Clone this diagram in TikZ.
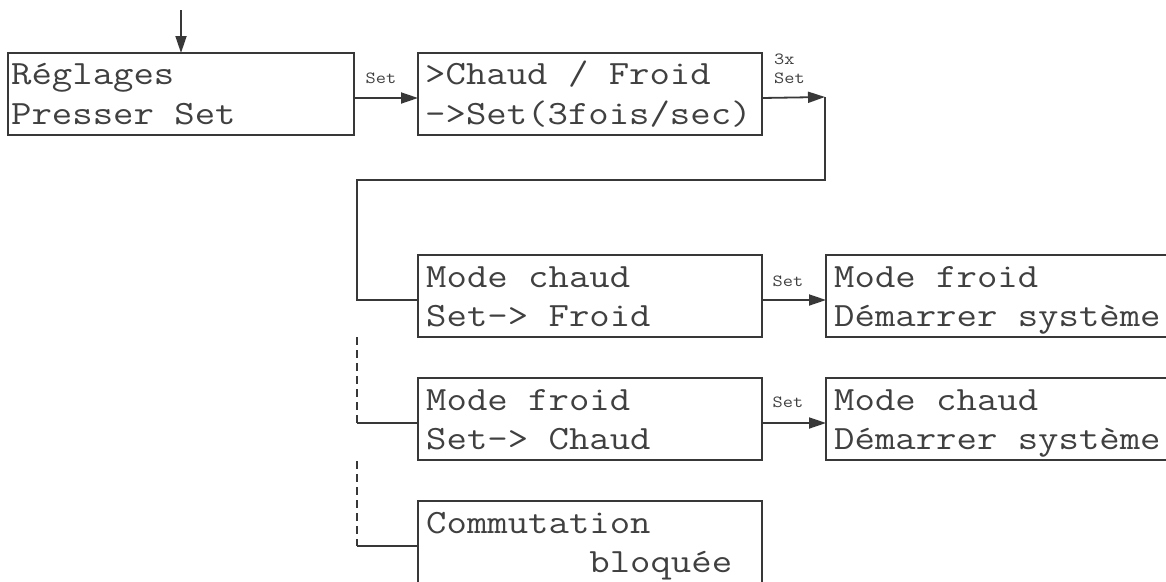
\documentclass[tikz,border=0pt]{standalone}
\usepackage{fontspec}
\newfontfamily\lcdfont[FakeStretch=1.165]{Latin Modern Mono}
\usetikzlibrary{arrows.meta}
\definecolor{linec}{HTML}{383838}
\definecolor{txtc}{HTML}{404040}
\begin{document}
\begin{tikzpicture}[x=1pt,y=-1pt,
  box/.style={draw=linec, line width=1.8pt, minimum width=344pt, minimum height=82pt, anchor=north west, inner sep=0pt, outer sep=0pt},
  lcd/.style={font=\fontsize{34}{39}\selectfont\lcdfont, text=txtc, anchor=base west, inner sep=0pt},
  small/.style={font=\fontsize{17}{19}\selectfont\lcdfont, text=txtc, inner sep=0pt},
  conn/.style={draw=linec, line width=1.8pt},
  arr/.style={conn, -{Triangle[length=17pt,width=11pt]}},
  dashconn/.style={conn, dash pattern=on 8pt off 5pt}
]
\useasboundingbox (0,0) rectangle (1166,581);
\clip (0,0) rectangle (1166,581);
\fill[white] (0,0) rectangle (1166,581);

% boxes
\node[box, minimum width=346pt] (b1) at (8,53) {};
\node[box] (b2) at (418,53) {};
\node[box] (b3) at (418,255) {};
\node[box] (b4) at (826,255) {};
\node[box] (b5) at (418,378) {};
\node[box] (b6) at (826,378) {};
\node[box] (b7) at (418,501) {};

% texts
\node[lcd] (t1a) at ([shift={(3,31)}]b1.north west) {Réglages};
\node[lcd] (t1b) at ([shift={(3,71)}]b1.north west) {Presser Set};
\node[lcd] (t2a) at ([shift={(7,31)}]b2.north west) {>Chaud / Froid};
\node[lcd] (t2b) at ([shift={(7,71)}]b2.north west) {->Set(3fois/sec)};
\node[lcd] (t3a) at ([shift={(8,32)}]b3.north west) {Mode chaud};
\node[lcd] (t3b) at ([shift={(8,71)}]b3.north west) {Set-> Froid};
\node[lcd] (t4a) at ([shift={(8,32)}]b4.north west) {Mode froid};
\node[lcd] (t4b) at ([shift={(8,71)}]b4.north west) {Démarrer système};
\node[lcd] (t5a) at ([shift={(8,32)}]b5.north west) {Mode froid};
\node[lcd] (t5b) at ([shift={(8,71)}]b5.north west) {Set-> Chaud};
\node[lcd] (t6a) at ([shift={(8,32)}]b6.north west) {Mode chaud};
\node[lcd] (t6b) at ([shift={(8,71)}]b6.north west) {Démarrer système};
\node[lcd] (t7a) at ([shift={(8,32)}]b7.north west) {Commutation};
\node[lcd] (t7b) at ([shift={(8,71)}]b7.north west) {\hphantom{12345678}bloquée};

% labels
\node[small] (l1) at (381,78) {Set};
\node[small, anchor=west] (l2a) at (774,59) {3x};
\node[small, anchor=west] (l2b) at (774,78) {Set};
\node[small] (l3) at (788,281) {Set};
\node[small] (l4) at (788,402) {Set};

% connectors
\coordinate (start) at (181,10);
\draw[arr] (start) -- (start |- b1.north);
\draw[arr] ([yshift=-4pt]b1.east) -- ([yshift=-4pt]b2.west);
\coordinate (c1) at (825,97);
\coordinate (c2) at (357,180);
\draw[arr] ([yshift=-4pt]b2.east) -- (c1);
\draw[conn] (c1) -- (c1 |- c2) -- (c2) |- ([yshift=-4pt]b3.west);
\draw[arr] ([yshift=-4pt]b3.east) -- ([yshift=-4pt]b4.west);

\coordinate (d1) at (357,337);
\coordinate (p5) at ([yshift=-4pt]b5.west);
\draw[dashconn] (d1) -- (d1 |- p5);
\draw[conn] (d1 |- p5) -- (p5);
\draw[arr] (p5 -| b5.east) -- (p5 -| b6.west);

\coordinate (d2) at (357,461);
\coordinate (p7) at ([yshift=-4pt]b7.west);
\draw[dashconn] (d2) -- (d2 |- p7);
\draw[conn] (d2 |- p7) -- (p7);
\end{tikzpicture}
\end{document}
